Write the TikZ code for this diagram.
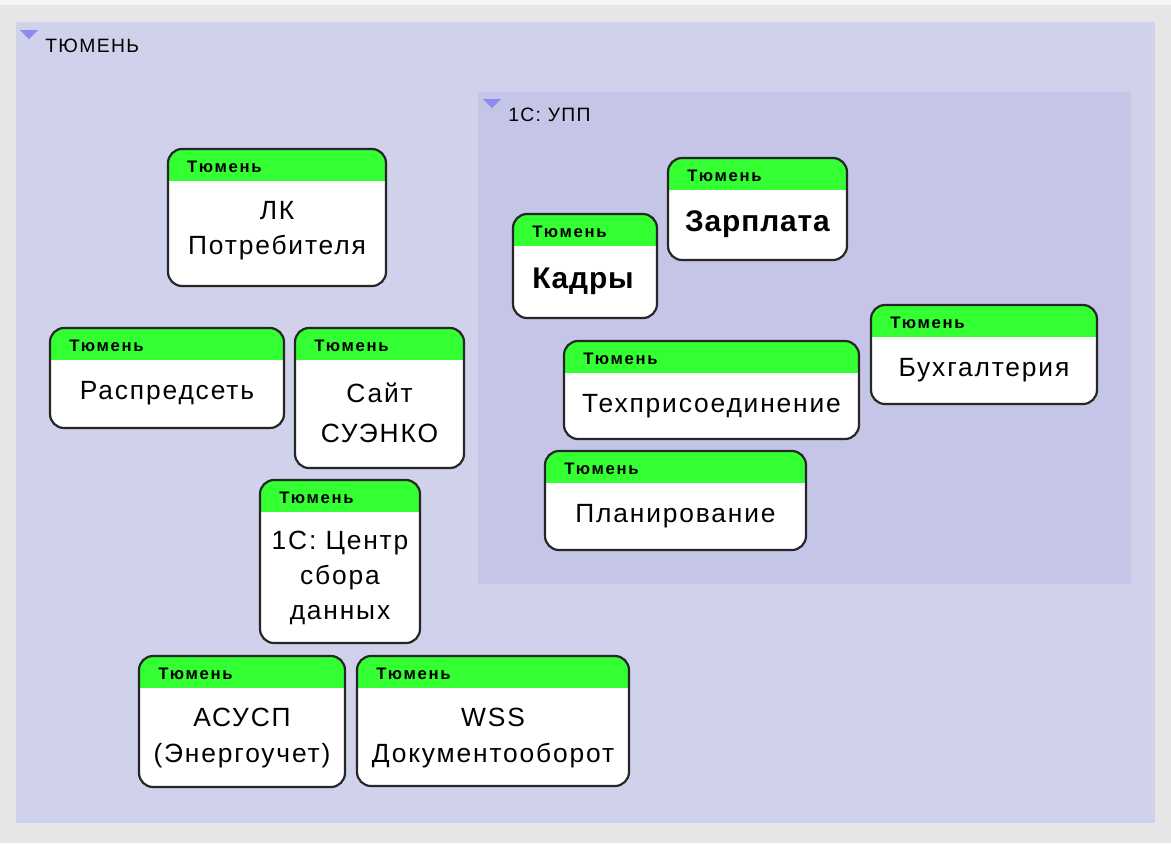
\documentclass[tikz,border=0pt]{standalone}
\usepackage{fontspec}
\setmainfont{Liberation Sans}[LetterSpace=7]
\newfontfamily\hdrfont{Liberation Sans}[LetterSpace=10]
\newfontfamily\bigfont{Liberation Sans}[LetterSpace=3]

\definecolor{pagebg}{HTML}{E6E6E6}
\definecolor{outerarea}{HTML}{D0D1EB}
\definecolor{innerarea}{HTML}{C5C5E7}
\definecolor{hdrgreen}{HTML}{33FF33}
\definecolor{marker}{HTML}{8C8CF0}

\tikzset{
  unit/.style={draw=black!85, line width=1.25pt, rounded corners=8pt, fill=white, inner sep=0pt,
    path picture={
      \fill[hdrgreen, sharp corners] (path picture bounding box.north west)
        rectangle ([yshift=-0.64cm]path picture bounding box.north east);
    },
    label={[hdr]north west:Тюмень}},
  boxsize/.style 2 args={minimum width=#1*0.02cm, minimum height=#2*0.02cm},
  hdr/.style={anchor=west, xshift=0.4cm, yshift=-0.38cm, inner sep=0pt,
    font=\hdrfont\bfseries\fontsize{9.5}{11}\selectfont},
  body/.style={align=center, inner sep=0pt, font=\fontsize{15}{20}\selectfont},
  bigbody/.style={inner sep=0pt, font=\bigfont\bfseries\fontsize{17}{20}\selectfont},
  area/.style={anchor=west, inner sep=0pt, font=\fontsize{11}{13}\selectfont}
}

\begin{document}
\begin{tikzpicture}[x=0.02cm, y=-0.02cm]

  % background and areas
  \fill[pagebg] (0,0) rectangle (1171,843);
  \fill[white!60!pagebg] (0,0) rectangle (1171,5);
  \fill[outerarea] (16,22) rectangle (1155,823);
  \fill[innerarea] (478,92) rectangle (1131,584);
  \fill[marker] (20,30) -- (38,30) -- (29,39) -- cycle;
  \fill[marker] (483,99) -- (501,99) -- (492,108) -- cycle;
  \node[area] (tyumen) at (45,46) {ТЮМЕНЬ};
  \node[area] (upp) at (508,115) {1С: УПП};

  % systems
  \node[unit, boxsize={218}{137}] (1)  at (277,217.5) {};
  \node[unit, boxsize={234}{100}] (2)  at (167,378)   {};
  \node[unit, boxsize={169}{140}] (3)  at (379.5,398) {};
  \node[unit, boxsize={160}{163}] (4)  at (340,561.5) {};
  \node[unit, boxsize={206}{131}] (5)  at (242,721.5) {};
  \node[unit, boxsize={272}{130}] (6)  at (493,721)   {};
  \node[unit, boxsize={144}{104}] (7)  at (585,266)   {};
  \node[unit, boxsize={179}{102}] (8)  at (757.5,209) {};
  \node[unit, boxsize={226}{99}]  (9)  at (984,354.5) {};
  \node[unit, boxsize={295}{98}]  (10) at (711.5,390) {};
  \node[unit, boxsize={261}{99}]  (11) at (675.5,500.5) {};

  \begin{scope}[every node/.style={body}]
    \node (1t)  at (277,231)   {ЛК\\Потребителя};
    \node (2t)  at (167,393)   {Распредсеть};
    \node[font=\fontsize{15}{23}\selectfont] (3t) at (379.5,413) {Сайт\\СУЭНКО};
    \node (4t)  at (340,578)   {1С: Центр\\сбора\\данных};
    \node (5t)  at (242,738)   {АСУСП\\(Энергоучет)};
    \node (6t)  at (493,738)   {WSS\\Документооборот};
    \node (9t)  at (984,370)   {Бухгалтерия};
    \node (10t) at (711.5,406) {Техприсоединение};
    \node (11t) at (675.5,516) {Планирование};
  \end{scope}
  \node[bigbody] (7t) at (583,281) {Кадры};
  \node[bigbody] (8t) at (757.5,224) {Зарплата};

\end{tikzpicture}
\end{document}
